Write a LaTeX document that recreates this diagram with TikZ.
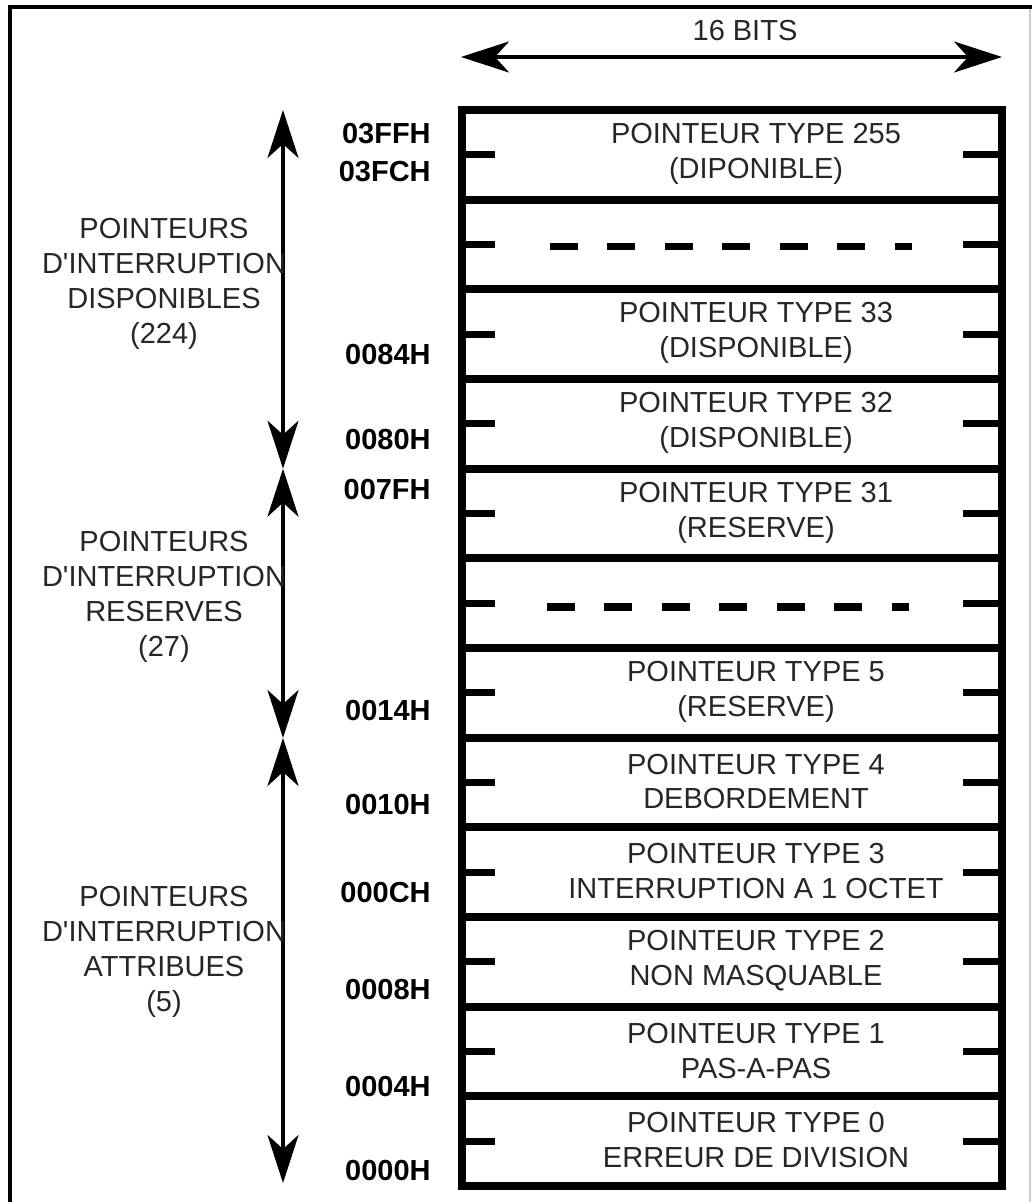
\documentclass[tikz,border=0pt]{standalone}
\usepackage{fontspec}
\setmainfont{Liberation Sans}
\usepackage{tikz}
\usetikzlibrary{arrows.meta,calc}
\newcommand\figfont{\fontsize{16.5}{19.9}\selectfont}
\tikzset{
  frame/.style={line width=2.8pt},
  cell/.style={rectangle, draw, line width=4.5pt, minimum width=10.8cm, minimum height=1.793cm, inner sep=0pt, outer sep=0pt},
  tick/.style={line width=3.9pt},
  elide/.style={line width=4.5pt, dash pattern=on 0.56cm off 0.59cm},
  vec/.style={{Stealth[length=0.96cm, width=0.62cm, inset=0.28cm]}-{Stealth[length=0.96cm, width=0.62cm, inset=0.28cm]}, line width=2.1pt},
  txt/.style={font=\figfont, text=black!85, align=center, inner sep=0pt},
  addr/.style={font=\figfont\bfseries, anchor=east, inner sep=0pt}
}

\begin{document}
\begin{tikzpicture}[x=0.02cm, y=-0.02cm]
\useasboundingbox (0,0) rectangle (1032,1202);
% frame
\draw[frame] (10,1202) |- (1032,7);
\draw[gray!40, line width=0.6pt] (1030,9) -- (1030,1202);
% width of a word
\node[txt] (bits) at (745,31) {16 BITS};
\coordinate (wl) at (461,57);
\coordinate (wr) at (1002,57);
\draw[vec] (wl) -- (wr);
% table of vectors
\foreach \i in {1,...,12} {
  \node[cell] (r\i) at (732,{110+89.67*(\i-0.5)}) {};
  \draw[tick] ($(r\i.west)+(3,0)$) -- ++(30,0);
  \draw[tick] ($(r\i.east)+(-4,0)$) -- ++(-35,0);
}
\foreach \i/\top/\bot in {1/POINTEUR TYPE 255/(DIPONIBLE),
    3/POINTEUR TYPE 33/(DISPONIBLE), 4/POINTEUR TYPE 32/(DISPONIBLE),
    5/POINTEUR TYPE 31/(RESERVE), 7/POINTEUR TYPE 5/(RESERVE),
    8/POINTEUR TYPE 4/DEBORDEMENT, 9/POINTEUR TYPE 3/INTERRUPTION A 1 OCTET,
    10/POINTEUR TYPE 2/NON MASQUABLE, 11/POINTEUR TYPE 1/PAS-A-PAS,
    12/POINTEUR TYPE 0/ERREUR DE DIVISION}
  \node[txt] (t\i) at ($(r\i.center)+(24,-1)$) {\top\\\bot};
\draw[elide] ($(r2.center)+(-182,2)$) -- ($(r2.center)+(180,2)$);
\draw[elide] ($(r6.center)+(-185,4)$) -- ($(r6.center)+(177,4)$);
% addresses
\foreach \a/\y in {03FFH/134, 03FCH/172, 0084H/355, 0080H/440, 007FH/490,
    0014H/711, 0010H/805, 000CH/893, 0008H/990, 0004H/1087, 0000H/1171}
  \node[addr] (a\a) at (431,\y) {\a};
% groups
\coordinate (p0) at (283,110);
\coordinate (p1) at (283,468.7);
\coordinate (p2) at (283,738);
\coordinate (p3) at (283,1183);
\draw[vec] (p0) -- (p1);
\draw[vec] (p1) -- (p2);
\draw[vec] (p2) -- (p3);
\node[txt] (g1) at (164,284) {POINTEURS\\D\textquotesingle INTERRUPTION\\DISPONIBLES\\(224)};
\node[txt] (g2) at (164,597) {POINTEURS\\D\textquotesingle INTERRUPTION\\RESERVES\\(27)};
\node[txt] (g3) at (164,952) {POINTEURS\\D\textquotesingle INTERRUPTION\\ATTRIBUES\\(5)};
\end{tikzpicture}
\end{document}
